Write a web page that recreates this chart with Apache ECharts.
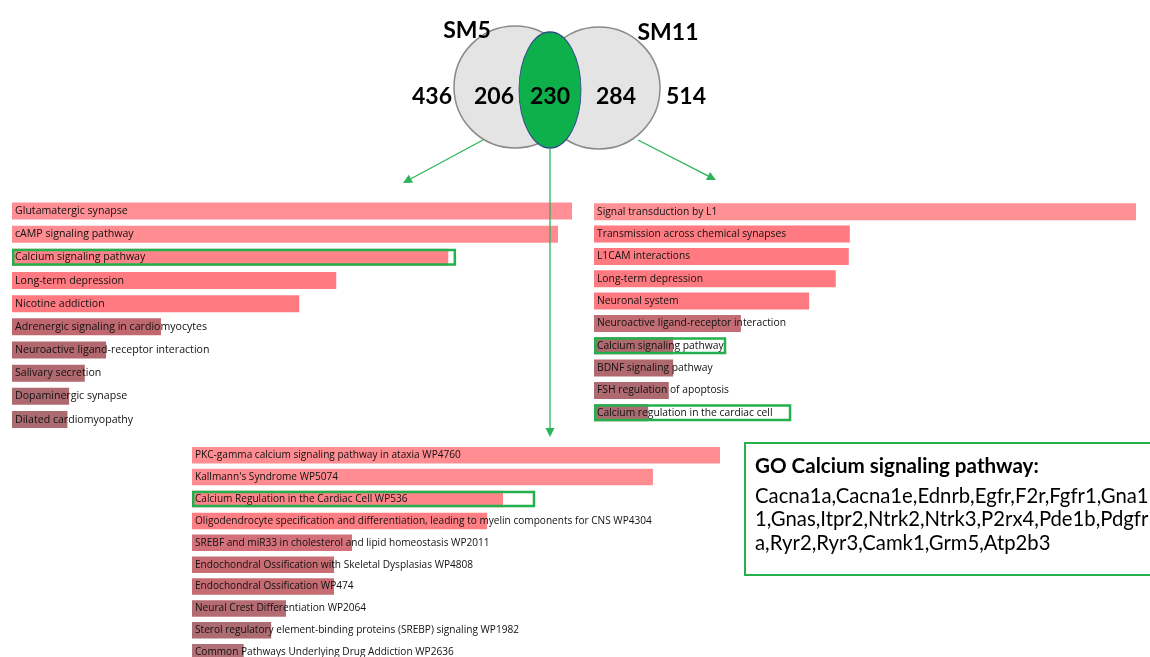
<!DOCTYPE html>
<html>
<head>
<meta charset="utf-8">
<script src="https://cdn.jsdelivr.net/npm/echarts@6/dist/echarts.min.js"></script>
<style>
  html, body { margin: 0; padding: 0; background: #fff; }
  #chart { width: 1150px; height: 657px; }
</style>
</head>
<body>
<div id="chart"></div>
<script>
// Venn counts
const vennSets = ['SM5', 'SM11']
const vennCounts = [436, 206, 230, 284, 514] // SM5 total, SM5 only, shared, SM11 only, SM11 total

// SM5 enrichment (KEGG)
const keggTerms = ['Glutamatergic synapse', 'cAMP signaling pathway', 'Calcium signaling pathway', 'Long-term depression',
  'Nicotine addiction', 'Adrenergic signaling in cardiomyocytes', 'Neuroactive ligand-receptor interaction',
  'Salivary secretion', 'Dopaminergic synapse', 'Dilated cardiomyopathy']
const keggScores = [100, 97.5, 77.9, 57.9, 51.3, 26.6, 16.8, 13.0, 10.2, 9.9]
const keggHighlight = ['-', '-', 79.3, '-', '-', '-', '-', '-', '-', '-']

// SM11 enrichment (Reactome / BioPlanet)
const reactTerms = ['Signal transduction by L1', 'Transmission across chemical synapses', 'L1CAM interactions',
  'Long-term depression', 'Neuronal system', 'Neuroactive ligand-receptor interaction', 'Calcium signaling pathway',
  'BDNF signaling pathway', 'FSH regulation of apoptosis', 'Calcium regulation in the cardiac cell']
const reactScores = [100, 47.2, 47.0, 44.6, 39.7, 27.1, 14.6, 14.6, 13.8, 10.0]
const reactHighlight = ['-', '-', '-', '-', '-', '-', 24.4, '-', '-', 36.4]

// Shared genes enrichment (WikiPathways)
const wikiTerms = ['PKC-gamma calcium signaling pathway in ataxia WP4760', "Kallmann's Syndrome WP5074",
  'Calcium Regulation in the Cardiac Cell WP536',
  'Oligodendrocyte specification and differentiation, leading to myelin components for CNS WP4304',
  'SREBF and miR33 in cholesterol and lipid homeostasis WP2011', 'Endochondral Ossification with Skeletal Dysplasias WP4808',
  'Endochondral Ossification WP474', 'Neural Crest Differentiation WP2064',
  'Sterol regulatory element-binding proteins (SREBP) signaling WP1982', 'Common Pathways Underlying Drug Addiction WP2636']
const wikiScores = [100, 87.3, 58.9, 55.9, 30.3, 26.9, 26.9, 17.8, 15.0, 9.8]
const wikiHighlight = ['-', '-', 65.0, '-', '-', '-', '-', '-', '-', '-']

// GO box
const goTitle = 'GO Calcium signaling pathway:'
const goLines = ['Cacna1a,Cacna1e,Ednrb,Egfr,F2r,Fgfr1,Gna1', '1,Gnas,Itpr2,Ntrk2,Ntrk3,P2rx4,Pde1b,Pdgfr', 'a,Ryr2,Ryr3,Camk1,Grm5,Atp2b3']

// bar colours (by significance)
const keggColors = ['#ff8f94', '#ff8c91', '#ff8388', '#ff7b81', '#ff7a80', '#bf686f', '#b2686e', '#b0696f', '#ad6a70', '#aa6b71']
const reactColors = ['#ff9195', '#ff7b81', '#ff7b81', '#ff7a80', '#ff7a80', '#c26c73', '#b0696f', '#b0696f', '#ad6a70', '#aa6b71']
const wikiColors = ['#ff8d92', '#ff8c91', '#ff8489', '#ff7e84', '#d4707a', '#c96d74', '#c56c73', '#b46c72', '#ad6c72', '#b07076']

const green = '#22b14c'
const arrowGreen = '#2db35a'

const chart = echarts.init(document.getElementById('chart'))

const grids = [
  { left: 12, top: 199.4, width: 560, height: 231.7, outerBoundsMode: 'none' },
  { left: 594, top: 200.6, width: 542, height: 223.3, outerBoundsMode: 'none' },
  { left: 192, top: 444.3, width: 528, height: 218.8, outerBoundsMode: 'none' }
]

const barSets = [
  { terms: keggTerms, scores: keggScores, hl: keggHighlight, colors: keggColors, bw: 17, fs: 10.6 },
  { terms: reactTerms, scores: reactScores, hl: reactHighlight, colors: reactColors, bw: 17, fs: 10.3 },
  { terms: wikiTerms, scores: wikiScores, hl: wikiHighlight, colors: wikiColors, bw: 16.5, fs: 10.1 }
]

const series = []
barSets.forEach((s, i) => {
  series.push({
    type: 'bar',
    xAxisIndex: i,
    yAxisIndex: i,
    barWidth: s.bw,
    silent: true,
    data: s.scores.map((v, k) => ({ value: v, itemStyle: { color: s.colors[k] } })),
    label: {
      show: true,
      position: 'insideLeft',
      distance: 3,
      formatter: '{b}',
      color: '#111',
      fontFamily: 'Open Sans',
      fontSize: s.fs
    }
  })
  series.push({
    type: 'bar',
    xAxisIndex: i,
    yAxisIndex: i,
    barWidth: s.bw,
    barGap: '-100%',
    silent: true,
    z: 3,
    data: s.hl,
    itemStyle: { color: 'rgba(0,0,0,0)', borderColor: green, borderWidth: 2.5 }
  })
})

// arrow helper
const arrow = (x1, y1, x2, y2) => {
  const a = Math.atan2(y2 - y1, x2 - x1)
  const len = 9, half = 4.5
  const bx = x2 - len * Math.cos(a), by = y2 - len * Math.sin(a)
  return [
    { type: 'line', z: 50, shape: { x1, y1, x2: bx, y2: by }, style: { stroke: arrowGreen, lineWidth: 1.3 } },
    {
      type: 'polygon', z: 50,
      shape: { points: [[x2, y2], [bx + half * Math.sin(a), by - half * Math.cos(a)], [bx - half * Math.sin(a), by + half * Math.cos(a)]] },
      style: { fill: arrowGreen }
    }
  ]
}

const vennFont = 'bold 23px Lato'
const graphics = [
  { type: 'circle', z: 10, shape: { cx: 515, cy: 87, r: 61 }, style: { fill: '#e4e4e4', stroke: '#8a8a8a', lineWidth: 1.5 } },
  { type: 'circle', z: 10, shape: { cx: 599, cy: 88, r: 61 }, style: { fill: '#e4e4e4', stroke: '#8a8a8a', lineWidth: 1.5 } },
  {
    type: 'circle', z: 11, x: 550, y: 90, scaleX: 31 / 58, scaleY: 1,
    shape: { cx: 0, cy: 0, r: 58 },
    style: { fill: '#0db04b', stroke: '#2e4a8c', lineWidth: 1.6, strokeNoScale: true }
  },
  { type: 'text', z: 20, x: 467, y: 31, style: { text: vennSets[0], font: vennFont, fill: '#000', align: 'center', verticalAlign: 'middle' } },
  { type: 'text', z: 20, x: 668, y: 33, style: { text: vennSets[1], font: vennFont, fill: '#000', align: 'center', verticalAlign: 'middle' } }
]
const countX = [432, 494, 550, 616, 686]
vennCounts.forEach((c, k) => {
  graphics.push({ type: 'text', z: 20, x: countX[k], y: 97, style: { text: String(c), font: vennFont, fill: '#000', align: 'center', verticalAlign: 'middle' } })
})
graphics.push(...arrow(483, 140, 403, 183))
graphics.push(...arrow(638, 140, 716, 180))
graphics.push(...arrow(550, 148, 550, 437))

// GO gene box
graphics.push({ type: 'rect', z: 5, shape: { x: 745, y: 443, width: 430, height: 132 }, style: { fill: '#fff', stroke: green, lineWidth: 2 } })
graphics.push({ type: 'text', z: 20, x: 755, y: 466, style: { text: goTitle, font: 'bold 20.6px Lato', fill: '#000', verticalAlign: 'middle' } })
goLines.forEach((t, k) => {
  graphics.push({ type: 'text', z: 20, x: 755, y: 496 + k * 23.5, style: { text: t, font: '20.3px Lato', fill: '#000', verticalAlign: 'middle' } })
})

const option = {
  animation: false,
  backgroundColor: '#fff',
  grid: grids,
  xAxis: grids.map((g, i) => ({ type: 'value', gridIndex: i, min: 0, max: 100, show: false })),
  yAxis: barSets.map((s, i) => ({ type: 'category', gridIndex: i, inverse: true, data: s.terms, show: false })),
  series,
  graphic: { elements: graphics }
}

chart.setOption(option)
window.addEventListener('resize', () => chart.resize())
</script>
</body>
</html>
